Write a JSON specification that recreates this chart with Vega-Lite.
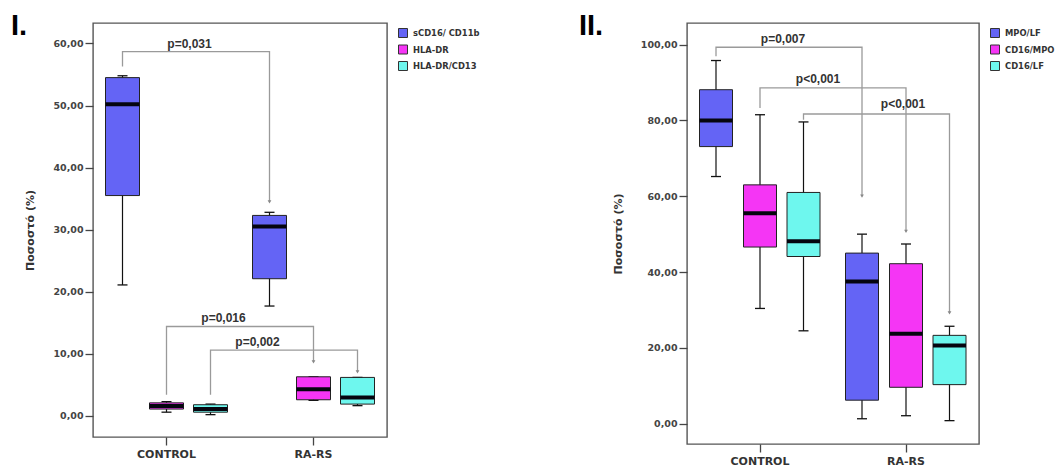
{
  "$schema": "https://vega.github.io/schema/vega-lite/v6.json",
  "background": "white",
  "padding": {"left": 10, "top": 11, "right": 0, "bottom": 0},
  "spacing": 92,
  "config": {
    "view": {"stroke": "#555", "strokeWidth": 1.4},
    "axisX": {"title": null, "labelAngle": 0, "domain": false, "tickSize": 8, "tickColor": "#444", "tickWidth": 1.3, "labelFont": "DejaVu Sans", "labelFontWeight": "bold", "labelFontSize": 11, "labelColor": "#333", "labelPadding": 3},
    "axisY": {"domain": false, "grid": false, "tickSize": 8, "tickColor": "#444", "tickWidth": 1.3, "labelFont": "DejaVu Sans", "labelFontWeight": "bold", "labelFontSize": 9.5, "labelColor": "#444", "labelPadding": 2, "titleFont": "DejaVu Sans", "titleFontWeight": "bold", "titleFontSize": 11, "titleColor": "#333", "titlePadding": 17},
    "legend": {"title": null, "orient": "right", "offset": 6, "padding": 5, "symbolType": "square", "symbolSize": 81, "symbolStrokeColor": "#333", "symbolStrokeWidth": 1, "labelFont": "DejaVu Sans", "labelFontWeight": "bold", "labelFontSize": 8.4, "labelColor": "#333", "rowPadding": 2.5, "labelOffset": 5},
    "title": {"frame": "group", "anchor": "start", "baseline": "alphabetic", "fontSize": 29, "font": "Liberation Sans", "fontWeight": "bold", "color": "black", "offset": -18}
  },
  "datasets": {
    "boxI": [
      {"group": "CONTROL", "series": "sCD16/ CD11b", "lo": 21.1, "q1": 35.5, "med": 50.2, "q3": 54.5, "hi": 54.8},
      {"group": "CONTROL", "series": "HLA-DR", "lo": 0.6, "q1": 1.1, "med": 1.6, "q3": 2.1, "hi": 2.3},
      {"group": "CONTROL", "series": "HLA-DR/CD13", "lo": 0.2, "q1": 0.6, "med": 1.1, "q3": 1.8, "hi": 1.9},
      {"group": "RA-RS", "series": "sCD16/ CD11b", "lo": 17.7, "q1": 22.1, "med": 30.5, "q3": 32.3, "hi": 32.8},
      {"group": "RA-RS", "series": "HLA-DR", "lo": 2.5, "q1": 2.6, "med": 4.3, "q3": 6.3, "hi": 6.3},
      {"group": "RA-RS", "series": "HLA-DR/CD13", "lo": 1.65, "q1": 1.9, "med": 2.95, "q3": 6.2, "hi": 6.2}
    ],
    "bracketI": [
      {"b": 1, "o": 1, "group": "CONTROL", "v": 56.3},
      {"b": 1, "o": 2, "group": "CONTROL", "v": 58.7},
      {"b": 1, "o": 3, "group": "RA-RS", "v": 58.7},
      {"b": 1, "o": 4, "group": "RA-RS", "v": 34.5},
      {"b": 2, "o": 1, "group": "CONTROL", "v": 3.4},
      {"b": 2, "o": 2, "group": "CONTROL", "v": 14.4},
      {"b": 2, "o": 3, "group": "RA-RS", "v": 14.4},
      {"b": 2, "o": 4, "group": "RA-RS", "v": 8.7},
      {"b": 3, "o": 1, "group": "CONTROL", "v": 3.4},
      {"b": 3, "o": 2, "group": "CONTROL", "v": 10.6},
      {"b": 3, "o": 3, "group": "RA-RS", "v": 10.6},
      {"b": 3, "o": 4, "group": "RA-RS", "v": 7.1}
    ],
    "pI": [
      {"b": 1, "label": "p=0,031", "group": "CONTROL", "v": 59.9},
      {"b": 2, "label": "p=0,016", "group": "CONTROL", "v": 15.8},
      {"b": 3, "label": "p=0,002", "group": "RA-RS", "v": 11.9}
    ],
    "boxII": [
      {"group": "CONTROL", "series": "MPO/LF", "lo": 65.2, "q1": 73.1, "med": 80.0, "q3": 88.1, "hi": 95.8},
      {"group": "CONTROL", "series": "CD16/MPO", "lo": 30.4, "q1": 46.6, "med": 55.5, "q3": 63.0, "hi": 81.5},
      {"group": "CONTROL", "series": "CD16/LF", "lo": 24.5, "q1": 44.1, "med": 48.1, "q3": 61.0, "hi": 79.6},
      {"group": "RA-RS", "series": "MPO/LF", "lo": 1.3, "q1": 6.2, "med": 37.5, "q3": 45.0, "hi": 50.0},
      {"group": "RA-RS", "series": "CD16/MPO", "lo": 2.1, "q1": 9.6, "med": 23.7, "q3": 42.2, "hi": 47.4},
      {"group": "RA-RS", "series": "CD16/LF", "lo": 0.8, "q1": 10.3, "med": 20.6, "q3": 23.3, "hi": 25.7}
    ],
    "bracketII": [
      {"b": 1, "o": 1, "group": "CONTROL", "v": 96.9},
      {"b": 1, "o": 2, "group": "CONTROL", "v": 99.3},
      {"b": 1, "o": 3, "group": "RA-RS", "v": 99.3},
      {"b": 1, "o": 4, "group": "RA-RS", "v": 60.0},
      {"b": 2, "o": 1, "group": "CONTROL", "v": 83.3},
      {"b": 2, "o": 2, "group": "CONTROL", "v": 88.6},
      {"b": 2, "o": 3, "group": "RA-RS", "v": 88.6},
      {"b": 2, "o": 4, "group": "RA-RS", "v": 50.7},
      {"b": 3, "o": 1, "group": "CONTROL", "v": 80.2},
      {"b": 3, "o": 2, "group": "CONTROL", "v": 81.7},
      {"b": 3, "o": 3, "group": "RA-RS", "v": 81.7},
      {"b": 3, "o": 4, "group": "RA-RS", "v": 29.2}
    ],
    "pII": [
      {"b": 1, "label": "p=0,007", "group": "CONTROL", "v": 101.6},
      {"b": 2, "label": "p<0,001", "group": "CONTROL", "v": 90.9},
      {"b": 3, "label": "p<0,001", "group": "RA-RS", "v": 84.3}
    ]
  },
  "hconcat": [
    {
      "title": {"text": "I.", "dx": -82},
      "width": 294,
      "height": 414,
      "encoding": {
        "x": {"field": "group", "type": "nominal", "scale": {"type": "band", "domain": ["CONTROL", "RA-RS"], "paddingInner": 0, "paddingOuter": 0}}
      },
      "layer": [
        {
          "data": {"name": "boxI"},
          "transform": [{"filter": "datum.series == 'sCD16/ CD11b'"}],
          "layer": [
            {"mark": {"type": "rule", "color": "#111", "strokeWidth": 1.2, "xOffset": -44},
             "encoding": {"y": {"field": "lo", "type": "quantitative", "title": "Ποσοστό (%)", "scale": {"domain": [-3.4, 63.3], "nice": false, "zero": false}, "axis": {"values": [0, 10, 20, 30, 40, 50, 60], "labelExpr": "replace(format(datum.value, '.2f'), '.', ',')"}}, "y2": {"field": "hi"}}},
            {"mark": {"type": "tick", "color": "#111", "size": 10, "thickness": 1.3, "opacity": 1, "xOffset": -44}, "encoding": {"y": {"field": "lo", "type": "quantitative"}}},
            {"mark": {"type": "tick", "color": "#111", "size": 10, "thickness": 1.3, "opacity": 1, "xOffset": -44}, "encoding": {"y": {"field": "hi", "type": "quantitative"}}},
            {"mark": {"type": "bar", "width": 34, "stroke": "#222", "strokeWidth": 1, "xOffset": -44},
             "encoding": {"y": {"field": "q1", "type": "quantitative"}, "y2": {"field": "q3"}, "color": {"field": "series", "type": "nominal", "scale": {"domain": ["sCD16/ CD11b", "HLA-DR", "HLA-DR/CD13"], "range": ["#6464f5", "#f535f5", "#6ef7ee"]}}}},
            {"mark": {"type": "tick", "color": "#05050f", "size": 34, "thickness": 4, "opacity": 1, "xOffset": -44}, "encoding": {"y": {"field": "med", "type": "quantitative"}}}
          ]
        },
        {
          "data": {"name": "boxI"},
          "transform": [{"filter": "datum.series == 'HLA-DR'"}],
          "layer": [
            {"mark": {"type": "rule", "color": "#111", "strokeWidth": 1.2, "xOffset": 0}, "encoding": {"y": {"field": "lo", "type": "quantitative"}, "y2": {"field": "hi"}}},
            {"mark": {"type": "tick", "color": "#111", "size": 10, "thickness": 1.3, "opacity": 1, "xOffset": 0}, "encoding": {"y": {"field": "lo", "type": "quantitative"}}},
            {"mark": {"type": "tick", "color": "#111", "size": 10, "thickness": 1.3, "opacity": 1, "xOffset": 0}, "encoding": {"y": {"field": "hi", "type": "quantitative"}}},
            {"mark": {"type": "bar", "width": 34, "stroke": "#222", "strokeWidth": 1, "xOffset": 0},
             "encoding": {"y": {"field": "q1", "type": "quantitative"}, "y2": {"field": "q3"}, "color": {"field": "series", "type": "nominal", "scale": {"domain": ["sCD16/ CD11b", "HLA-DR", "HLA-DR/CD13"], "range": ["#6464f5", "#f535f5", "#6ef7ee"]}}}},
            {"mark": {"type": "tick", "color": "#05050f", "size": 34, "thickness": 4, "opacity": 1, "xOffset": 0}, "encoding": {"y": {"field": "med", "type": "quantitative"}}}
          ]
        },
        {
          "data": {"name": "boxI"},
          "transform": [{"filter": "datum.series == 'HLA-DR/CD13'"}],
          "layer": [
            {"mark": {"type": "rule", "color": "#111", "strokeWidth": 1.2, "xOffset": 44}, "encoding": {"y": {"field": "lo", "type": "quantitative"}, "y2": {"field": "hi"}}},
            {"mark": {"type": "tick", "color": "#111", "size": 10, "thickness": 1.3, "opacity": 1, "xOffset": 44}, "encoding": {"y": {"field": "lo", "type": "quantitative"}}},
            {"mark": {"type": "tick", "color": "#111", "size": 10, "thickness": 1.3, "opacity": 1, "xOffset": 44}, "encoding": {"y": {"field": "hi", "type": "quantitative"}}},
            {"mark": {"type": "bar", "width": 34, "stroke": "#222", "strokeWidth": 1, "xOffset": 44},
             "encoding": {"y": {"field": "q1", "type": "quantitative"}, "y2": {"field": "q3"}, "color": {"field": "series", "type": "nominal", "scale": {"domain": ["sCD16/ CD11b", "HLA-DR", "HLA-DR/CD13"], "range": ["#6464f5", "#f535f5", "#6ef7ee"]}}}},
            {"mark": {"type": "tick", "color": "#05050f", "size": 34, "thickness": 4, "opacity": 1, "xOffset": 44}, "encoding": {"y": {"field": "med", "type": "quantitative"}}}
          ]
        },
        {
          "data": {"name": "bracketI"},
          "transform": [{"filter": "datum.b == 1"}],
          "layer": [
            {"mark": {"type": "line", "color": "#9a9a9a", "strokeWidth": 1.3, "xOffset": -44}, "encoding": {"y": {"field": "v", "type": "quantitative"}, "order": {"field": "o"}}},
            {"transform": [{"filter": "datum.o == 4"}], "mark": {"type": "point", "shape": "triangle-down", "size": 14, "filled": true, "color": "#888", "opacity": 1, "xOffset": -44}, "encoding": {"y": {"field": "v", "type": "quantitative"}}}
          ]
        },
        {
          "data": {"name": "bracketI"},
          "transform": [{"filter": "datum.b == 2"}],
          "layer": [
            {"mark": {"type": "line", "color": "#9a9a9a", "strokeWidth": 1.3, "xOffset": 0}, "encoding": {"y": {"field": "v", "type": "quantitative"}, "order": {"field": "o"}}},
            {"transform": [{"filter": "datum.o == 4"}], "mark": {"type": "point", "shape": "triangle-down", "size": 14, "filled": true, "color": "#888", "opacity": 1, "xOffset": 0}, "encoding": {"y": {"field": "v", "type": "quantitative"}}}
          ]
        },
        {
          "data": {"name": "bracketI"},
          "transform": [{"filter": "datum.b == 3"}],
          "layer": [
            {"mark": {"type": "line", "color": "#9a9a9a", "strokeWidth": 1.3, "xOffset": 44}, "encoding": {"y": {"field": "v", "type": "quantitative"}, "order": {"field": "o"}}},
            {"transform": [{"filter": "datum.o == 4"}], "mark": {"type": "point", "shape": "triangle-down", "size": 14, "filled": true, "color": "#888", "opacity": 1, "xOffset": 44}, "encoding": {"y": {"field": "v", "type": "quantitative"}}}
          ]
        },
        {
          "data": {"name": "pI"},
          "transform": [{"filter": "datum.b == 1"}],
          "mark": {"type": "text", "font": "Liberation Sans", "fontWeight": "bold", "fontSize": 12, "color": "#333", "baseline": "middle", "dx": 23},
          "encoding": {"y": {"field": "v", "type": "quantitative"}, "text": {"field": "label"}}
        },
        {
          "data": {"name": "pI"},
          "transform": [{"filter": "datum.b == 2"}],
          "mark": {"type": "text", "font": "Liberation Sans", "fontWeight": "bold", "fontSize": 12, "color": "#333", "baseline": "middle", "dx": 57},
          "encoding": {"y": {"field": "v", "type": "quantitative"}, "text": {"field": "label"}}
        },
        {
          "data": {"name": "pI"},
          "transform": [{"filter": "datum.b == 3"}],
          "mark": {"type": "text", "font": "Liberation Sans", "fontWeight": "bold", "fontSize": 12, "color": "#333", "baseline": "middle", "dx": -56},
          "encoding": {"y": {"field": "v", "type": "quantitative"}, "text": {"field": "label"}}
        }
      ]
    },
    {
      "title": {"text": "II.", "dx": -108},
      "width": 292,
      "height": 421,
      "encoding": {
        "x": {"field": "group", "type": "nominal", "scale": {"type": "band", "domain": ["CONTROL", "RA-RS"], "paddingInner": 0, "paddingOuter": 0}}
      },
      "layer": [
        {
          "data": {"name": "boxII"},
          "transform": [{"filter": "datum.series == 'MPO/LF'"}],
          "layer": [
            {"mark": {"type": "rule", "color": "#111", "strokeWidth": 1.2, "xOffset": -44},
             "encoding": {"y": {"field": "lo", "type": "quantitative", "title": "Ποσοστό (%)", "scale": {"domain": [-5.36, 105.7], "nice": false, "zero": false}, "axis": {"values": [0, 20, 40, 60, 80, 100], "labelExpr": "replace(format(datum.value, '.2f'), '.', ',')"}}, "y2": {"field": "hi"}}},
            {"mark": {"type": "tick", "color": "#111", "size": 10, "thickness": 1.3, "opacity": 1, "xOffset": -44}, "encoding": {"y": {"field": "lo", "type": "quantitative"}}},
            {"mark": {"type": "tick", "color": "#111", "size": 10, "thickness": 1.3, "opacity": 1, "xOffset": -44}, "encoding": {"y": {"field": "hi", "type": "quantitative"}}},
            {"mark": {"type": "bar", "width": 33, "stroke": "#222", "strokeWidth": 1, "xOffset": -44},
             "encoding": {"y": {"field": "q1", "type": "quantitative"}, "y2": {"field": "q3"}, "color": {"field": "series", "type": "nominal", "scale": {"domain": ["MPO/LF", "CD16/MPO", "CD16/LF"], "range": ["#6464f5", "#f535f5", "#6ef7ee"]}}}},
            {"mark": {"type": "tick", "color": "#05050f", "size": 33, "thickness": 4, "opacity": 1, "xOffset": -44}, "encoding": {"y": {"field": "med", "type": "quantitative"}}}
          ]
        },
        {
          "data": {"name": "boxII"},
          "transform": [{"filter": "datum.series == 'CD16/MPO'"}],
          "layer": [
            {"mark": {"type": "rule", "color": "#111", "strokeWidth": 1.2, "xOffset": 0}, "encoding": {"y": {"field": "lo", "type": "quantitative"}, "y2": {"field": "hi"}}},
            {"mark": {"type": "tick", "color": "#111", "size": 10, "thickness": 1.3, "opacity": 1, "xOffset": 0}, "encoding": {"y": {"field": "lo", "type": "quantitative"}}},
            {"mark": {"type": "tick", "color": "#111", "size": 10, "thickness": 1.3, "opacity": 1, "xOffset": 0}, "encoding": {"y": {"field": "hi", "type": "quantitative"}}},
            {"mark": {"type": "bar", "width": 33, "stroke": "#222", "strokeWidth": 1, "xOffset": 0},
             "encoding": {"y": {"field": "q1", "type": "quantitative"}, "y2": {"field": "q3"}, "color": {"field": "series", "type": "nominal", "scale": {"domain": ["MPO/LF", "CD16/MPO", "CD16/LF"], "range": ["#6464f5", "#f535f5", "#6ef7ee"]}}}},
            {"mark": {"type": "tick", "color": "#05050f", "size": 33, "thickness": 4, "opacity": 1, "xOffset": 0}, "encoding": {"y": {"field": "med", "type": "quantitative"}}}
          ]
        },
        {
          "data": {"name": "boxII"},
          "transform": [{"filter": "datum.series == 'CD16/LF'"}],
          "layer": [
            {"mark": {"type": "rule", "color": "#111", "strokeWidth": 1.2, "xOffset": 43.5}, "encoding": {"y": {"field": "lo", "type": "quantitative"}, "y2": {"field": "hi"}}},
            {"mark": {"type": "tick", "color": "#111", "size": 10, "thickness": 1.3, "opacity": 1, "xOffset": 43.5}, "encoding": {"y": {"field": "lo", "type": "quantitative"}}},
            {"mark": {"type": "tick", "color": "#111", "size": 10, "thickness": 1.3, "opacity": 1, "xOffset": 43.5}, "encoding": {"y": {"field": "hi", "type": "quantitative"}}},
            {"mark": {"type": "bar", "width": 33, "stroke": "#222", "strokeWidth": 1, "xOffset": 43.5},
             "encoding": {"y": {"field": "q1", "type": "quantitative"}, "y2": {"field": "q3"}, "color": {"field": "series", "type": "nominal", "scale": {"domain": ["MPO/LF", "CD16/MPO", "CD16/LF"], "range": ["#6464f5", "#f535f5", "#6ef7ee"]}}}},
            {"mark": {"type": "tick", "color": "#05050f", "size": 33, "thickness": 4, "opacity": 1, "xOffset": 43.5}, "encoding": {"y": {"field": "med", "type": "quantitative"}}}
          ]
        },
        {
          "data": {"name": "bracketII"},
          "transform": [{"filter": "datum.b == 1"}],
          "layer": [
            {"mark": {"type": "line", "color": "#9a9a9a", "strokeWidth": 1.3, "xOffset": -44}, "encoding": {"y": {"field": "v", "type": "quantitative"}, "order": {"field": "o"}}},
            {"transform": [{"filter": "datum.o == 4"}], "mark": {"type": "point", "shape": "triangle-down", "size": 14, "filled": true, "color": "#888", "opacity": 1, "xOffset": -44}, "encoding": {"y": {"field": "v", "type": "quantitative"}}}
          ]
        },
        {
          "data": {"name": "bracketII"},
          "transform": [{"filter": "datum.b == 2"}],
          "layer": [
            {"mark": {"type": "line", "color": "#9a9a9a", "strokeWidth": 1.3, "xOffset": 0}, "encoding": {"y": {"field": "v", "type": "quantitative"}, "order": {"field": "o"}}},
            {"transform": [{"filter": "datum.o == 4"}], "mark": {"type": "point", "shape": "triangle-down", "size": 14, "filled": true, "color": "#888", "opacity": 1, "xOffset": 0}, "encoding": {"y": {"field": "v", "type": "quantitative"}}}
          ]
        },
        {
          "data": {"name": "bracketII"},
          "transform": [{"filter": "datum.b == 3"}],
          "layer": [
            {"mark": {"type": "line", "color": "#9a9a9a", "strokeWidth": 1.3, "xOffset": 43.5}, "encoding": {"y": {"field": "v", "type": "quantitative"}, "order": {"field": "o"}}},
            {"transform": [{"filter": "datum.o == 4"}], "mark": {"type": "point", "shape": "triangle-down", "size": 14, "filled": true, "color": "#888", "opacity": 1, "xOffset": 43.5}, "encoding": {"y": {"field": "v", "type": "quantitative"}}}
          ]
        },
        {
          "data": {"name": "pII"},
          "transform": [{"filter": "datum.b == 1"}],
          "mark": {"type": "text", "font": "Liberation Sans", "fontWeight": "bold", "fontSize": 12, "color": "#333", "baseline": "middle", "dx": 23},
          "encoding": {"y": {"field": "v", "type": "quantitative"}, "text": {"field": "label"}}
        },
        {
          "data": {"name": "pII"},
          "transform": [{"filter": "datum.b == 2"}],
          "mark": {"type": "text", "font": "Liberation Sans", "fontWeight": "bold", "fontSize": 12, "color": "#333", "baseline": "middle", "dx": 58},
          "encoding": {"y": {"field": "v", "type": "quantitative"}, "text": {"field": "label"}}
        },
        {
          "data": {"name": "pII"},
          "transform": [{"filter": "datum.b == 3"}],
          "mark": {"type": "text", "font": "Liberation Sans", "fontWeight": "bold", "fontSize": 12, "color": "#333", "baseline": "middle", "dx": -3},
          "encoding": {"y": {"field": "v", "type": "quantitative"}, "text": {"field": "label"}}
        }
      ]
    }
  ],
  "resolve": {"scale": {"color": "independent"}}
}
